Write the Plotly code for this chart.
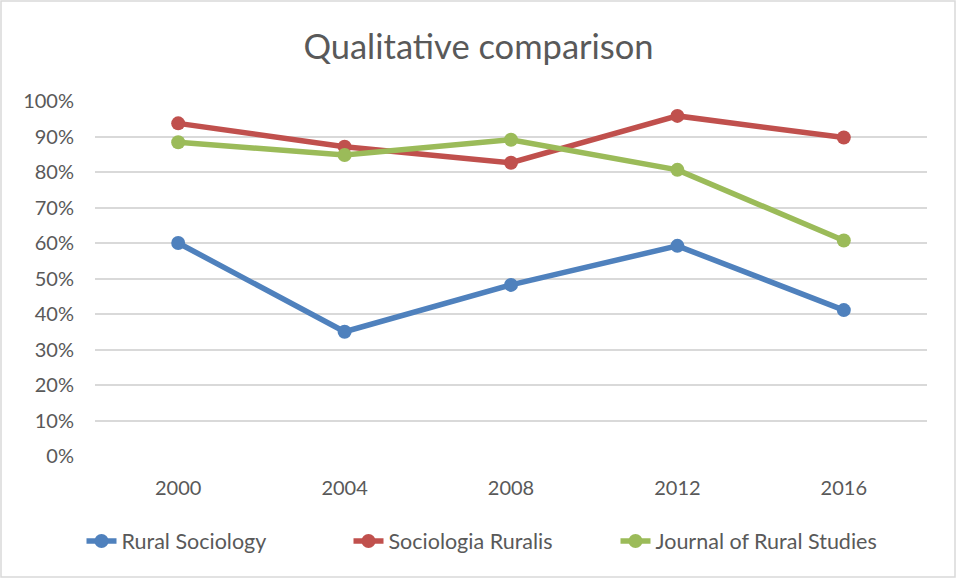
import plotly.graph_objects as go

years = ["2000", "2004", "2008", "2012", "2016"]
rural_sociology = [0.60, 0.35, 0.482, 0.592, 0.411]
sociologia_ruralis = [0.937, 0.871, 0.826, 0.958, 0.897]
journal_rural_studies = [0.884, 0.848, 0.891, 0.806, 0.607]

series = [
    ("Rural Sociology", rural_sociology, "#4F81BD"),
    ("Sociologia Ruralis", sociologia_ruralis, "#C0504D"),
    ("Journal of Rural Studies", journal_rural_studies, "#9BBB59"),
]

FONT = "Lato, Noto Sans, sans-serif"
TXT = "#595959"

fig = go.Figure()
for name, vals, color in series:
    fig.add_trace(go.Scatter(
        x=years, y=vals, name=name, mode="lines+markers",
        line=dict(color=color, width=5.5),
        marker=dict(color=color, size=14),
    ))

fig.update_layout(
    width=957, height=579,
    paper_bgcolor="white", plot_bgcolor="white",
    margin=dict(l=95, r=30, t=101, b=123),
    title=dict(text="Qualitative comparison", x=0.5, xanchor="center",
               y=1 - 47 / 579, yanchor="middle",
               font=dict(family=FONT, size=34.5, color=TXT)),
    font=dict(family=FONT, size=20, color=TXT),
    showlegend=True,
    legend=dict(orientation="h", x=0.5 - 29 / 832, xanchor="center", y=-85 / 355,
                yanchor="middle",
                font=dict(family=FONT, size=21.5, color=TXT),
                traceorder="normal", entrywidthmode="pixels", entrywidth=222),
    xaxis=dict(type="category", range=[-0.5, 4.5], showgrid=False,
               showline=False, zeroline=False, ticks="", ticklabelstandoff=18,
               tickfont=dict(family=FONT, size=20, color=TXT)),
    yaxis=dict(range=[0, 1.0], dtick=0.1, tickformat=".0%",
               showgrid=True, gridcolor="#D9D9D9", gridwidth=1.5,
               zeroline=False, showline=False, ticks="", ticklabelstandoff=20,
               tickfont=dict(family=FONT, size=20, color=TXT)),
)
fig.add_shape(type="rect", xref="paper", yref="paper",
              x0=-94/832, x1=1+28/832, y0=-121/355, y1=1+100/355,
              line=dict(color="#D9D9D9", width=1.5), layer="below")

fig.write_html("out.html", config={"displayModeBar": False},
               post_script="document.body.style.margin='0px';")
